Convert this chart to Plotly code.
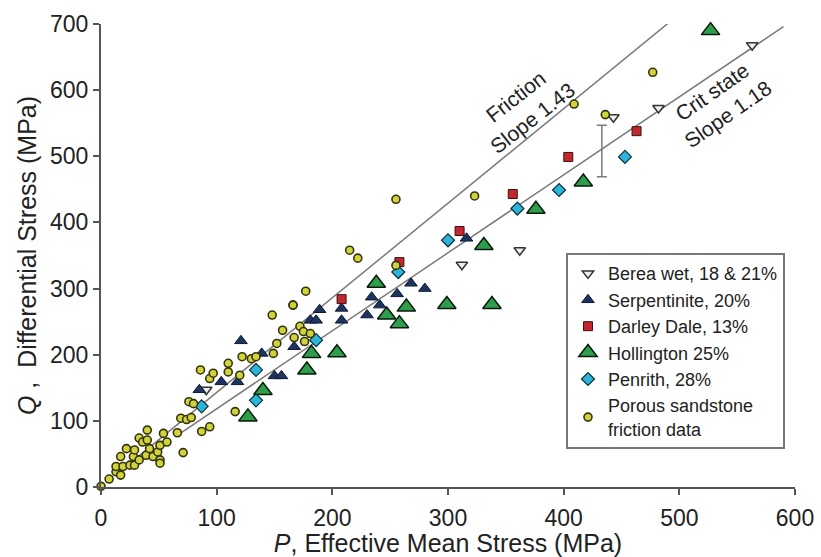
import plotly.graph_objects as go

# ---------------- data ----------------
berea_x = [563, 482, 443, 362, 312, 91]
berea_y = [668, 573, 559, 358, 336, 147]

serp_x = [85, 104, 118, 121, 139, 150, 156, 167, 181, 186, 189, 208, 208, 230, 234, 241, 256, 268, 280, 316]
serp_y = [147, 159, 159, 221, 202, 168, 168, 212, 252, 252, 268, 252, 270, 260, 287, 275, 292, 308, 300, 376]

darley_x = [208, 258, 310, 356, 404, 463]
darley_y = [284, 340, 387, 443, 499, 538]

holl_x = [127, 140, 178, 182, 204, 238, 247, 258, 264, 299, 331, 338, 376, 417, 527]
holl_y = [106, 146, 177, 202, 203, 308, 260, 247, 272, 276, 365, 276, 420, 461, 690]

penr_x = [87, 134, 134, 186, 257, 300, 360, 396, 453]
penr_y = [122, 177, 131, 222, 325, 373, 421, 449, 499]

sand_x = [0, 7, 13, 17, 13, 19, 22, 17, 25, 29, 28, 29, 33, 40, 36, 40, 33, 39, 45, 42,
          49, 51, 51, 54, 57, 51, 66, 69, 74, 78, 71, 76, 80, 87, 94, 86, 94, 97, 110, 110,
          116, 122, 120, 130, 134, 149, 152, 148, 157, 166, 167, 172, 175, 181, 176, 166, 177,
          215, 222, 255, 255, 323, 409, 436, 477]
sand_y = [1, 12, 23, 18, 31, 31, 58, 46, 33, 33, 46, 56, 74, 86, 68, 71, 41, 48, 46, 58,
          53, 41, 63, 81, 68, 36, 82, 104, 102, 105, 52, 129, 126, 84, 91, 177, 164, 172, 187, 174,
          114, 197, 169, 194, 197, 202, 217, 260, 237, 275, 226, 243, 235, 232, 220, 275, 296,
          358, 346, 435, 335, 440, 579, 563, 627]

friction_x = [30, 493]
friction_y = [43, 705]
crit_x = [65, 590]
crit_y = [77, 696]

errbar_x = [433]
errbar_y = [508]
errbar_half = [39]

FONT = "Liberation Sans, Arial, Helvetica, sans-serif"
NB = "\u00a0"

fig = go.Figure()

# reference lines
fig.add_trace(go.Scatter(x=friction_x, y=friction_y, mode="lines",
                         line=dict(color="#7a7a7a", width=1.5), showlegend=False, hoverinfo="skip"))
fig.add_trace(go.Scatter(x=crit_x, y=crit_y, mode="lines",
                         line=dict(color="#7a7a7a", width=1.5), showlegend=False, hoverinfo="skip"))

# error bar
fig.add_trace(go.Scatter(x=errbar_x, y=errbar_y, mode="markers",
                         marker=dict(size=1, opacity=0),
                         error_y=dict(type="data", array=errbar_half, visible=True,
                                      color="#7a7a7a", thickness=1.5, width=5),
                         showlegend=False, hoverinfo="skip"))

fig.add_trace(go.Scatter(x=berea_x, y=berea_y, mode="markers", name="Berea wet, 18 &amp; 21%",
                         marker=dict(symbol="triangle-down", size=10, color="#eeeeee",
                                     line=dict(color="#333333", width=1.5))))
fig.add_trace(go.Scatter(x=serp_x, y=serp_y, mode="markers", name="Serpentinite, 20%",
                         marker=dict(symbol="triangle-up", size=11, color="#1d3461",
                                     line=dict(color="#0d1a33", width=1))))
fig.add_trace(go.Scatter(x=darley_x, y=darley_y, mode="markers", name="Darley Dale, 13%",
                         marker=dict(symbol="square", size=9, color="#c4262e",
                                     line=dict(color="#3a1010", width=1))))
fig.add_trace(go.Scatter(x=holl_x, y=holl_y, mode="markers", name="Hollington 25%",
                         marker=dict(symbol="triangle-up", size=16, color="#2f9e4c",
                                     line=dict(color="#0a1a0a", width=1.5))))
fig.add_trace(go.Scatter(x=penr_x, y=penr_y, mode="markers", name="Penrith, 28%",
                         marker=dict(symbol="diamond", size=10, color="#2bb5d8",
                                     line=dict(color="#10303a", width=1.2))))
fig.add_trace(go.Scatter(x=sand_x, y=sand_y, mode="markers",
                         name="Porous sandstone<br>friction data",
                         marker=dict(symbol="circle", size=8, color="#d2d23a",
                                     line=dict(color="#33330e", width=1.6))))

for tr in fig.data:
    tr.cliponaxis = False

fig.add_annotation(x=366, y=574, xref="x", yref="y", text="Friction<br>Slope 1.43",
                   showarrow=False, textangle=-38,
                   font=dict(family=FONT, size=21, color="#222222"))
fig.add_annotation(x=535, y=580, xref="x", yref="y", text="Crit state<br>Slope 1.18",
                   showarrow=False, textangle=-35,
                   font=dict(family=FONT, size=21, color="#222222"))

fig.update_layout(
    width=821, height=557,
    margin=dict(l=101, r=26, t=24, b=70),
    paper_bgcolor="white", plot_bgcolor="white",
    font=dict(family=FONT, size=18, color="#222222"),
    showlegend=True,
    legend=dict(x=0.67, y=0.505, xanchor="left", yanchor="top",
                bordercolor="#777777", borderwidth=2, bgcolor="white",
                font=dict(family=FONT, size=18, color="#222222"),
                itemsizing="trace", tracegroupgap=0),
)
fig.update_xaxes(range=[0, 600], tickvals=[0, 100, 200, 300, 400, 500, 600],
                 automargin=False,
                 showgrid=False, zeroline=False, showline=True, linecolor="#555555", linewidth=2,
                 ticks="outside", ticklen=6, tickwidth=2, tickcolor="#555555",
                 ticklabelstandoff=3,
                 tickfont=dict(family=FONT, size=23, color="#222222"),
                 title=dict(text="<i>P</i>, Effective Mean Stress (MPa)", standoff=0,
                            font=dict(family=FONT, size=25, color="#222222")))
fig.update_yaxes(range=[0, 700], tickvals=[0, 100, 200, 300, 400, 500, 600, 700],
                 automargin=False,
                 showgrid=False, zeroline=False, showline=True, linecolor="#555555", linewidth=2,
                 ticks="outside", ticklen=6, tickwidth=2, tickcolor="#555555",
                 tickfont=dict(family=FONT, size=23, color="#222222"),
                 title=dict(text="<i>Q</i>" + NB + "," + NB + NB + "Differential Stress (MPa)", standoff=6,
                            font=dict(family=FONT, size=25, color="#222222")))

fig.write_html("out.html")
